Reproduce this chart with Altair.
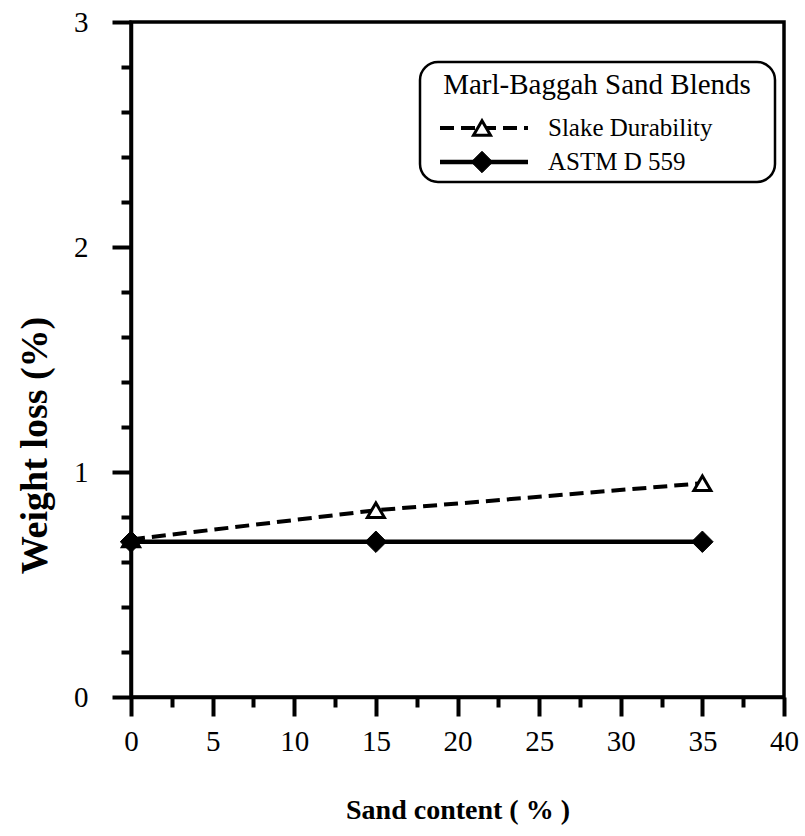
import altair as alt
import pandas as pd

# ---- data ----
sand = [0, 15, 35]
slake = [0.70, 0.83, 0.95]
astm = [0.69, 0.69, 0.69]

x_ticks = [0, 2.5, 5, 7.5, 10, 12.5, 15, 17.5, 20, 22.5, 25, 27.5, 30, 32.5, 35, 37.5, 40]
y_ticks = [0, 0.2, 0.4, 0.6, 0.8, 1.0, 1.2, 1.4, 1.6, 1.8, 2.0,
           2.2, 2.4, 2.6, 2.8, 3.0]

legend_title = "Marl-Baggah Sand Blends"
legend_names = ["Slake Durability", "ASTM D 559"]

df_slake = pd.DataFrame({"sand": sand, "loss": slake})
df_astm = pd.DataFrame({"sand": sand, "loss": astm})

SERIF = "Liberation Serif"
W, H = 653, 675

xaxis = alt.Axis(
    values=x_ticks,
    tickSize={"condition": {"test": "datum.value % 5 === 0", "value": 19}, "value": 10},
    labelExpr="datum.value % 5 === 0 ? datum.label : ''",
    labelOverlap=False, labelFlush=False,
    labelFont=SERIF, labelFontSize=29, labelColor="black", labelPadding=11,
    domainColor="black", domainWidth=3.5, tickColor="black", tickWidth=4,
    grid=False,
    title="Sand content ( % )", titleFont=SERIF, titleFontSize=28,
    titleFontWeight="bold", titleColor="black",
    titleY=121, titleBaseline="alphabetic",
)
yaxis = alt.Axis(
    values=y_ticks,
    tickSize={"condition": {"test": "abs(datum.value - round(datum.value)) < 1e-6", "value": 19}, "value": 10},
    labelExpr="abs(datum.value - round(datum.value)) < 1e-6 ? format(datum.value, 'd') : ''",
    labelOverlap=False, labelFlush=False,
    labelFont=SERIF, labelFontSize=29, labelColor="black", labelPadding=24,
    domainColor="black", domainWidth=3.5, tickColor="black", tickWidth=4,
    grid=False,
    title="Weight  loss  (%)", titleFont=SERIF, titleFontSize=38,
    titleFontWeight="bold", titleColor="black",
    titleAngle=270, titleX=-96, titleY=423, titleAlign="center",
    titleBaseline="middle",
)

xs = alt.Scale(domain=[0, 40], nice=False, zero=False)
ys = alt.Scale(domain=[0, 3], nice=False, zero=False)

base_s = alt.Chart(df_slake).encode(
    x=alt.X("sand:Q", scale=xs, axis=xaxis),
    y=alt.Y("loss:Q", scale=ys, axis=yaxis),
)
base_a = alt.Chart(df_astm).encode(
    x=alt.X("sand:Q", scale=xs, axis=xaxis),
    y=alt.Y("loss:Q", scale=ys, axis=yaxis),
)

line_s = base_s.mark_line(color="black", strokeWidth=4, strokeDash=[14, 7])
line_a = base_a.mark_line(color="black", strokeWidth=4.5)
pts_s = base_s.mark_point(shape="triangle-up", filled=True, fill="white",
                          stroke="black", strokeWidth=3, size=290, opacity=1)
pts_a = base_a.mark_point(shape="diamond", filled=True, fill="black",
                          stroke="black", strokeWidth=1, size=460, opacity=1)

# ---- legend box (drawn in pixel space of the plot) ----
one = pd.DataFrame({"k": [0]})
box = alt.Chart(one).mark_rect(
    fill="white", stroke="black", strokeWidth=2.5, cornerRadius=18
).encode(x=alt.value(289), x2=alt.value(644), y=alt.value(40), y2=alt.value(160))

ltitle = alt.Chart(one).mark_text(
    text=legend_title, font=SERIF, fontSize=29, color="black",
    align="center", baseline="middle"
).encode(x=alt.value(466), y=alt.value(63))

row1_line = alt.Chart(one).mark_rule(
    color="black", strokeWidth=4, strokeDash=[14, 7]
).encode(x=alt.value(309), x2=alt.value(397), y=alt.value(106))
row1_pt = alt.Chart(one).mark_point(
    shape="triangle-up", filled=True, fill="white", stroke="black",
    strokeWidth=3, size=290, opacity=1
).encode(x=alt.value(351), y=alt.value(106))
row1_txt = alt.Chart(one).mark_text(
    text=legend_names[0], font=SERIF, fontSize=25, color="black",
    align="left", baseline="middle"
).encode(x=alt.value(417), y=alt.value(106))

row2_line = alt.Chart(one).mark_rule(
    color="black", strokeWidth=4.5
).encode(x=alt.value(309), x2=alt.value(397), y=alt.value(140))
row2_pt = alt.Chart(one).mark_point(
    shape="diamond", filled=True, fill="black", stroke="black",
    strokeWidth=1, size=460, opacity=1
).encode(x=alt.value(351), y=alt.value(140))
row2_txt = alt.Chart(one).mark_text(
    text=legend_names[1], font=SERIF, fontSize=25, color="black",
    align="left", baseline="middle"
).encode(x=alt.value(417), y=alt.value(140))

chart = alt.layer(
    line_s, line_a, pts_s, pts_a,
    box, ltitle, row1_line, row1_pt, row1_txt, row2_line, row2_pt, row2_txt,
).properties(
    width=W, height=H,
    autosize=alt.AutoSizeParams(type="none"),
    padding={"left": 131, "top": 22, "right": 21, "bottom": 139},
    background="white",
).configure_view(
    stroke="black", strokeWidth=3.5
)

chart.save("out.html", embed_options={"renderer": "svg", "actions": False})
